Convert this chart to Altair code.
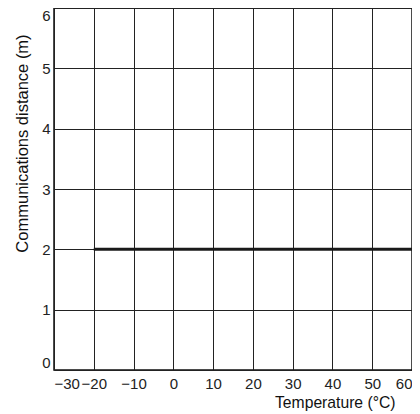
import altair as alt
import pandas as pd

temps = [-20, 60]
distance = [2, 2]
x_ticks = [-30, -20, -10, 0, 10, 20, 30, 40, 50, 60]
y_ticks = [0, 1, 2, 3, 4, 5, 6]

df = pd.DataFrame({"t": temps, "d": distance})

font = "Liberation Sans"

chart = alt.Chart(df).mark_line(color="#1a1a1a", strokeWidth=3).encode(
    x=alt.X("t:Q", scale=alt.Scale(domain=[-30, 60], nice=False),
            axis=alt.Axis(values=x_ticks, title="Temperature (°C)", grid=True,
                          gridColor="#222", gridWidth=1, gridOpacity=1,
                          ticks=False, domain=False, labelFlush=True,
                          labelPadding=6, labelFontSize=15, labelColor="#222",
                          labelFont=font, titleFont=font, titleFontSize=15.7,
                          titleFontWeight="normal", titleColor="#111",
                          titleAlign="right", titleAnchor="start",
                          titleX=341, titleY=37, titleBaseline="alphabetic")),
    y=alt.Y("d:Q", scale=alt.Scale(domain=[0, 6], nice=False),
            axis=alt.Axis(values=y_ticks, title="Communications distance (m)", grid=True,
                          gridColor="#222", gridWidth=1, gridOpacity=1,
                          ticks=False, domain=False, labelFlush=True,
                          labelPadding=4, labelFontSize=15, labelColor="#222",
                          labelFont=font, titleFont=font, titleFontSize=16.5,
                          titleFontWeight="normal", titleColor="#111",
                          titleAngle=270, titleAlign="center", titleAnchor="start",
                          titleX=-27, titleY=135, titleBaseline="alphabetic")),
).properties(
    width=358, height=362,
    autosize=alt.AutoSizeParams(type="none"),
    padding={"left": 46, "top": 0, "right": 0, "bottom": 42},
).configure_view(stroke="#111", strokeWidth=1.5)

chart.save("out.html", embed_options={"renderer": "svg", "actions": False})
